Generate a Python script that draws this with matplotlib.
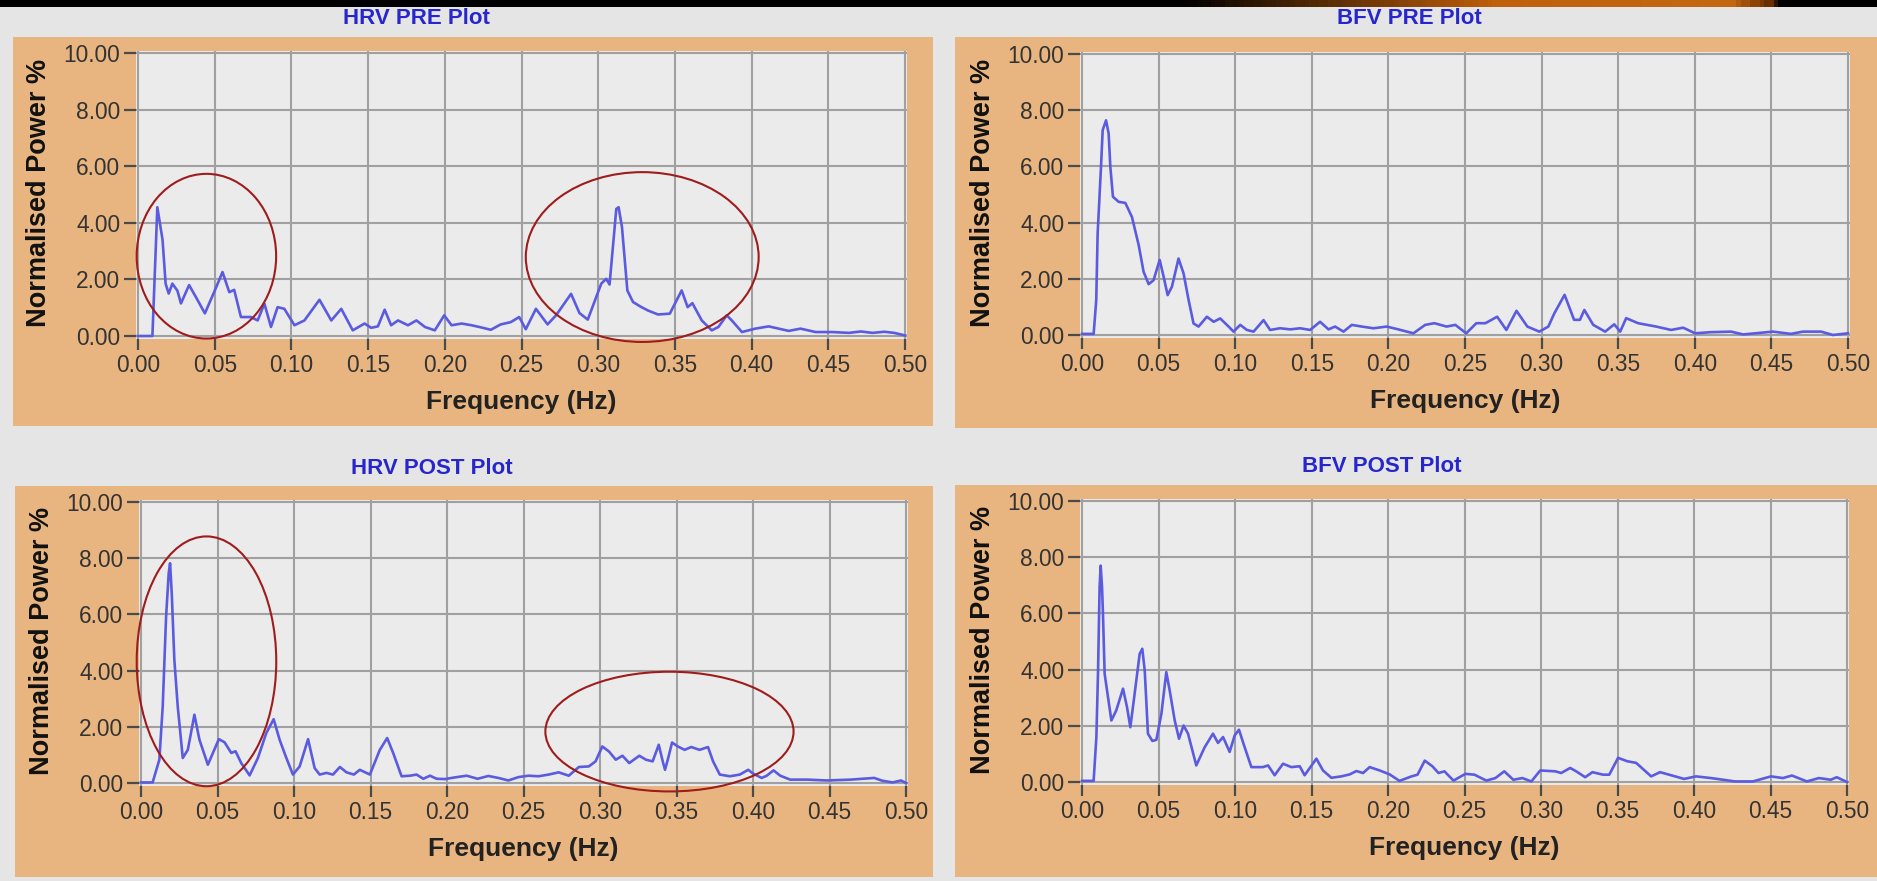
import numpy as np
import matplotlib.pyplot as plt
from matplotlib.patches import Ellipse, Rectangle
from matplotlib.colors import LinearSegmentedColormap

W, H = 1877, 881
FAM = ['Liberation Sans', 'DejaVu Sans']
plt.rcParams['font.family'] = FAM

# ---- data ----
hrv_pre_f = [0, 0.0094, 0.0126, 0.016, 0.018, 0.020, 0.0224, 0.0257, 0.028, 0.0333,
             0.0377, 0.0436, 0.050, 0.0551, 0.0595, 0.0627, 0.0671, 0.0736, 0.078, 0.0824,
             0.0867, 0.091, 0.0954, 0.102, 0.1085, 0.1183, 0.126, 0.1325, 0.140, 0.1477,
             0.152, 0.1564, 0.1608, 0.165, 0.1695, 0.176, 0.1815, 0.187, 0.1935, 0.1996,
             0.2044, 0.211, 0.2174, 0.224, 0.230, 0.2365, 0.243, 0.2485, 0.2528, 0.2594,
             0.267, 0.2725, 0.2823, 0.2878, 0.2932, 0.302, 0.3052, 0.3074, 0.3118, 0.3133,
             0.3155, 0.319, 0.3227, 0.3282, 0.3325, 0.339, 0.3467, 0.3544, 0.3583, 0.3614,
             0.3675, 0.374, 0.3784, 0.3838, 0.3871, 0.3937, 0.4024, 0.4111, 0.4177, 0.4242,
             0.4319, 0.4417, 0.4526, 0.4635, 0.4712, 0.4788, 0.4865, 0.493, 0.5]
hrv_pre_p = [0, 0, 4.55, 3.4, 1.85, 1.5, 1.85, 1.6, 1.15, 1.8,
             1.38, 0.8, 1.6, 2.26, 1.55, 1.63, 0.67, 0.67, 0.55, 1.14,
             0.32, 1.02, 0.96, 0.38, 0.55, 1.28, 0.55, 0.96, 0.2, 0.44,
             0.29, 0.34, 0.93, 0.38, 0.55, 0.38, 0.55, 0.32, 0.2, 0.73,
             0.38, 0.44, 0.38, 0.30, 0.22, 0.41, 0.49, 0.67, 0.24, 0.96,
             0.41, 0.73, 1.49, 0.81, 0.58, 1.85, 2.02, 1.82, 4.49, 4.55,
             3.85, 1.61, 1.2, 1.02, 0.9, 0.76, 0.79, 1.61, 1.02, 1.16,
             0.55, 0.2, 0.32, 0.73, 0.55, 0.14, 0.26, 0.34, 0.26, 0.18,
             0.26, 0.14, 0.14, 0.11, 0.16, 0.11, 0.15, 0.11, 0.02]

bfv_pre_f = [0, 0.0076, 0.0093, 0.0102, 0.0124, 0.0135, 0.0157, 0.0174, 0.0185, 0.0202,
             0.0239, 0.0283, 0.0326, 0.037, 0.0402, 0.0435, 0.0467, 0.0507, 0.0533, 0.0559,
             0.0587, 0.063, 0.0663, 0.0696, 0.0728, 0.0761, 0.0815, 0.0859, 0.0902, 0.0957,
             0.0989, 0.1033, 0.1076, 0.112, 0.1185, 0.1228, 0.1293, 0.1359, 0.1424, 0.1489,
             0.1554, 0.1609, 0.1652, 0.1707, 0.1761, 0.1826, 0.1902, 0.1989, 0.2065, 0.2163,
             0.224, 0.23, 0.238, 0.2437, 0.2508, 0.2574, 0.2633, 0.271, 0.277, 0.2836,
             0.2907, 0.2985, 0.3044, 0.3083, 0.315, 0.3212, 0.325, 0.3279, 0.3337, 0.3415,
             0.3474, 0.3513, 0.3552, 0.363, 0.3748, 0.3845, 0.3924, 0.4002, 0.41, 0.4237,
             0.4315, 0.451, 0.4628, 0.4706, 0.4824, 0.4902, 0.5]
bfv_pre_p = [0.04, 0.04, 1.24, 3.6, 5.98, 7.29, 7.64, 7.17, 5.98, 4.92,
             4.74, 4.7, 4.2, 3.2, 2.25, 1.81, 1.95, 2.67, 2.07, 1.42,
             1.72, 2.72, 2.19, 1.24, 0.41, 0.3, 0.65, 0.47, 0.59, 0.3,
             0.12, 0.36, 0.18, 0.12, 0.53, 0.18, 0.24, 0.2, 0.24, 0.18,
             0.47, 0.2, 0.3, 0.12, 0.36, 0.3, 0.24, 0.3, 0.2, 0.06,
             0.36, 0.42, 0.3, 0.36, 0.06, 0.42, 0.42, 0.65, 0.18, 0.86,
             0.3, 0.12, 0.3, 0.77, 1.43, 0.54, 0.54, 0.89, 0.36, 0.12,
             0.38, 0.12, 0.6, 0.42, 0.3, 0.18, 0.26, 0.06, 0.1, 0.12,
             0.02, 0.12, 0.04, 0.12, 0.12, 0.0, 0.06]

hrv_post_f = [0, 0.0076, 0.012, 0.0142, 0.0164, 0.0181, 0.019, 0.0201, 0.0218, 0.024,
              0.0273, 0.0306, 0.0349, 0.0382, 0.0437, 0.0509, 0.0546, 0.059, 0.0618, 0.0655,
              0.071, 0.0764, 0.0819, 0.0867, 0.0906, 0.095, 0.0993, 0.1037, 0.1092, 0.1135,
              0.1168, 0.1212, 0.1255, 0.13, 0.1343, 0.1391, 0.143, 0.1496, 0.1561, 0.1609,
              0.1648, 0.1703, 0.1758, 0.1801, 0.1845, 0.1889, 0.1932, 0.1987, 0.2052, 0.2129,
              0.22, 0.227, 0.2336, 0.2401, 0.2467, 0.2533, 0.2599, 0.2664, 0.273, 0.2796,
              0.2862, 0.2927, 0.2971, 0.3015, 0.3059, 0.3103, 0.3147, 0.3191, 0.3257, 0.33,
              0.3344, 0.3384, 0.341, 0.3425, 0.3443, 0.3471, 0.3509, 0.3553, 0.3596, 0.3651,
              0.3706, 0.3739, 0.3783, 0.3849, 0.3914, 0.3969, 0.4002, 0.4057, 0.409, 0.4134,
              0.4178, 0.4243, 0.4353, 0.4485, 0.4638, 0.4792, 0.4846, 0.4912, 0.4967, 0.5]
hrv_post_p = [0.02, 0.02, 0.83, 2.73, 5.92, 7.46, 7.82, 6.75, 4.38, 2.73,
              0.89, 1.18, 2.43, 1.54, 0.65, 1.56, 1.45, 1.07, 1.13, 0.71,
              0.27, 0.89, 1.78, 2.27, 1.54, 0.89, 0.3, 0.59, 1.56, 0.53,
              0.3, 0.36, 0.3, 0.57, 0.38, 0.3, 0.47, 0.3, 1.18, 1.6,
              1.07, 0.24, 0.26, 0.3, 0.15, 0.26, 0.15, 0.14, 0.2, 0.26,
              0.15, 0.25, 0.18, 0.09, 0.21, 0.26, 0.24, 0.3, 0.38, 0.26,
              0.57, 0.59, 0.77, 1.3, 1.12, 0.83, 0.97, 0.71, 0.97, 0.83,
              0.77, 1.36, 0.77, 0.47, 0.83, 1.44, 1.3, 1.18, 1.28, 1.18,
              1.28, 0.77, 0.3, 0.24, 0.3, 0.47, 0.33, 0.18, 0.26, 0.45,
              0.26, 0.12, 0.12, 0.09, 0.12, 0.18, 0.08, 0.02, 0.09, 0.0]

bfv_post_f = [0, 0.0076, 0.0094, 0.0105, 0.0115, 0.0122, 0.0131, 0.0137, 0.0148, 0.017,
              0.0192, 0.0224, 0.0268, 0.0294, 0.0316, 0.0344, 0.0377, 0.0394, 0.041, 0.0431,
              0.046, 0.0486, 0.0519, 0.0551, 0.0573, 0.0606, 0.0634, 0.0664, 0.0693, 0.0747,
              0.0802, 0.0856, 0.0889, 0.0922, 0.0965, 0.0998, 0.1026, 0.1063, 0.1107, 0.1183,
              0.1216, 0.1259, 0.1314, 0.1368, 0.1423, 0.1455, 0.1532, 0.1575, 0.163, 0.1695,
              0.175, 0.1793, 0.1837, 0.188, 0.1946, 0.2011, 0.2075, 0.2154, 0.2193, 0.224,
              0.229, 0.233, 0.2369, 0.2428, 0.2506, 0.2565, 0.2643, 0.2702, 0.276, 0.2819,
              0.2878, 0.2937, 0.2995, 0.3093, 0.3132, 0.3191, 0.323, 0.3289, 0.3336, 0.3406,
              0.3446, 0.3504, 0.3563, 0.3622, 0.372, 0.3778, 0.3857, 0.3935, 0.4013, 0.4111,
              0.419, 0.4268, 0.4385, 0.4503, 0.4581, 0.464, 0.4738, 0.4816, 0.4894, 0.4933, 0.5]
bfv_post_p = [0.04, 0.04, 1.6, 3.97, 6.93, 7.7, 6.93, 5.98, 3.85, 3.02,
              2.19, 2.55, 3.32, 2.67, 1.95, 3.14, 4.56, 4.74, 3.97, 1.72,
              1.46, 1.5, 2.43, 3.91, 3.26, 2.19, 1.54, 2.01, 1.72, 0.59,
              1.24, 1.72, 1.39, 1.6, 1.07, 1.66, 1.86, 1.24, 0.53, 0.53,
              0.59, 0.24, 0.65, 0.53, 0.56, 0.24, 0.83, 0.41, 0.15, 0.2,
              0.27, 0.39, 0.32, 0.53, 0.41, 0.27, 0.04, 0.2, 0.26, 0.76,
              0.56, 0.32, 0.38, 0.05, 0.29, 0.26, 0.05, 0.14, 0.38, 0.08,
              0.14, 0.02, 0.41, 0.38, 0.32, 0.5, 0.38, 0.17, 0.35, 0.26,
              0.26, 0.86, 0.74, 0.68, 0.2, 0.35, 0.23, 0.11, 0.2, 0.14,
              0.08, 0.02, 0.02, 0.2, 0.14, 0.23, 0.02, 0.14, 0.08, 0.17, 0.0]

titles = ['HRV PRE Plot', 'BFV PRE Plot', 'HRV POST Plot', 'BFV POST Plot']
xticks = [0, 0.05, 0.10, 0.15, 0.20, 0.25, 0.30, 0.35, 0.40, 0.45, 0.50]
yticks = [0, 2, 4, 6, 8, 10]

# highlight ellipses: (center f, center p, width, height)
hrv_pre_rings = [(0.0446, 2.82, 0.0909, 5.82), (0.3287, 2.79, 0.1518, 6.0)]
hrv_post_rings = [(0.0428, 4.33, 0.0912, 8.89), (0.3454, 1.83, 0.1622, 4.26)]

panels = [
    dict(f=hrv_pre_f, p=hrv_pre_p, rings=hrv_pre_rings, x0=138, x5=905, y10=53, y0=336,
         frame=(13, 933, 37, 426), title_xy=(416, 18)),
    dict(f=bfv_pre_f, p=bfv_pre_p, rings=[], x0=1082, x5=1848, y10=54, y0=335,
         frame=(955, 1877, 37, 428), title_xy=(1409, 18)),
    dict(f=hrv_post_f, p=hrv_post_p, rings=hrv_post_rings, x0=141, x5=906, y10=502, y0=783,
         frame=(15, 933, 486, 877), title_xy=(432, 468)),
    dict(f=bfv_post_f, p=bfv_post_p, rings=[], x0=1082, x5=1847, y10=501, y0=782,
         frame=(955, 1877, 485, 877), title_xy=(1382, 466)),
]

XLIM = (-0.0015, 0.5015)
YLIM = (-0.12, 10.08)

fig = plt.figure(figsize=(W / 100, H / 100), dpi=100, facecolor='#e5e5e5')

# dark slide strip at the very top with an orange swoosh
strip = fig.add_axes([0, 1 - 7 / H, 1, 7 / H])
strip_cm = LinearSegmentedColormap.from_list(
    'strip', [(0, '#000000'), (0.63, '#000000'), (0.80, '#c0600a'), (0.925, '#c56812'),
              (0.945, '#6a3000'), (0.952, '#000000'), (1, '#000000')])
strip.imshow(np.linspace(0, 1, 400)[None, :], aspect='auto', cmap=strip_cm,
             extent=(0, 1, 0, 1))
strip.axis('off')

for i, pn in enumerate(panels):
    l, r, t, b = pn['frame']
    fig.patches.append(Rectangle((l / W, 1 - b / H), (r - l) / W, (b - t) / H,
                                 transform=fig.transFigure, facecolor='#e8b580',
                                 edgecolor='none', zorder=-5))

    sx = (pn['x5'] - pn['x0']) / 0.5
    sy = (pn['y0'] - pn['y10']) / 10.0
    al = pn['x0'] + XLIM[0] * sx
    ar = pn['x0'] + XLIM[1] * sx
    at = pn['y0'] - YLIM[1] * sy
    ab = pn['y0'] - YLIM[0] * sy
    ax = fig.add_axes([al / W, 1 - ab / H, (ar - al) / W, (ab - at) / H])
    ax.set_facecolor('#ebebeb')
    for s in ax.spines.values():
        s.set_visible(False)
    ax.set_xlim(*XLIM)
    ax.set_ylim(*YLIM)
    ax.set_xticks(xticks)
    ax.set_yticks(yticks)
    ax.set_xticklabels(['%.2f' % v for v in xticks])
    ax.set_yticklabels(['%.2f' % v for v in yticks])
    ax.grid(True, color='#a0a0a0', lw=1.5)
    ax.set_axisbelow(True)
    ax.tick_params(axis='y', direction='out', length=9, width=1.6, color='#4a4a4a',
                   pad=2, labelsize=16.4, labelcolor='#333333')
    ax.tick_params(axis='x', direction='out', length=8, width=1.6, color='#4a4a4a',
                   pad=2.5, labelsize=16.4, labelcolor='#333333')

    ax.plot(pn['f'], pn['p'], color='#5b5be0', lw=1.9, zorder=3)

    for cx, cy, w, h in pn['rings']:
        ax.add_patch(Ellipse((cx, cy), w, h, fill=False, edgecolor='#9e1c1c',
                             lw=1.5, clip_on=False, zorder=4))

    # labels
    fig.text((pn['x0'] - 99) / W, 1 - ((pn['y0'] + pn['y10']) / 2 - 2) / H,
             'Normalised Power %', rotation=90, ha='center', va='center',
             fontsize=19.5, fontweight='bold', color='#111111')
    fig.text((pn['x0'] + pn['x5']) / 2 / W, 1 - (pn['y0'] + 66) / H, 'Frequency (Hz)',
             ha='center', va='center', fontsize=19, fontweight='bold', color='#222222')
    tx, ty = pn['title_xy']
    fig.text(tx / W, 1 - ty / H, titles[i], ha='center', va='center',
             fontsize=16, fontweight='bold', color='#2626cc')

fig.savefig('out.png', dpi=100, facecolor=fig.get_facecolor())
